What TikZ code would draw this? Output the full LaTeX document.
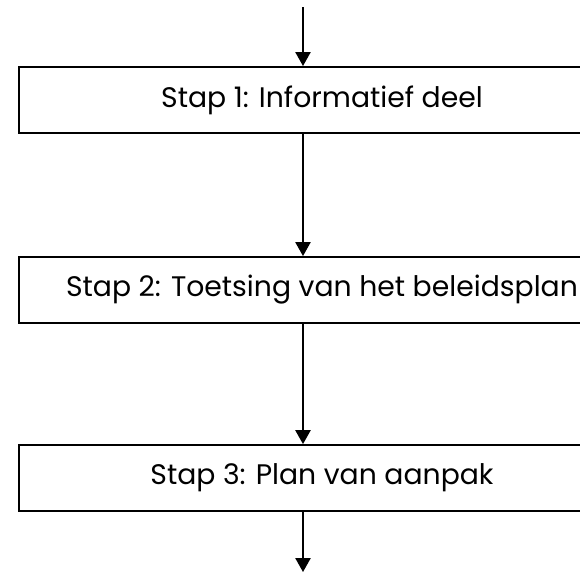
\documentclass[tikz,border=0pt]{standalone}
\usepackage{fontspec}
\setmainfont{Poppins}
\usepackage{tikz}
\usetikzlibrary{shapes,arrows.meta}
\tikzstyle{stepblock} = [rectangle, draw, line width=1.4pt,
    minimum width=15.15cm, minimum height=1.65cm, font=\fontsize{20.1}{24}\selectfont]
\tikzstyle{arrow} = [draw, -{Triangle[length=0.35cm, width=0.38cm]}, line width=1.3pt]

\begin{document}
\begin{tikzpicture}[x=0.025cm, y=-0.025cm, node distance=4.75cm, auto]
    \useasboundingbox (0,0) rectangle (580,573);
    % Place nodes
    \node [stepblock] (stap1) at (322,100) {Stap 1: Informatief deel};
    \node [stepblock, below of=stap1] (stap2) {Stap 2: Toetsing van het beleidsplan};
    \node [stepblock, below of=stap2, node distance=4.7cm] (stap3) {Stap 3: Plan van aanpak};
%
    \coordinate (start) at (303,7);
    \coordinate (finish) at (303,572);
    \path [arrow] (start) -- ([xshift=-0.475cm]stap1.north);
    \path [arrow] ([xshift=-0.475cm]stap1.south) -- ([xshift=-0.475cm]stap2.north);
    \path [arrow] ([xshift=-0.475cm]stap2.south) -- ([xshift=-0.475cm]stap3.north);
    \path [arrow] ([xshift=-0.475cm]stap3.south) -- (finish);
\end{tikzpicture}
\end{document}
